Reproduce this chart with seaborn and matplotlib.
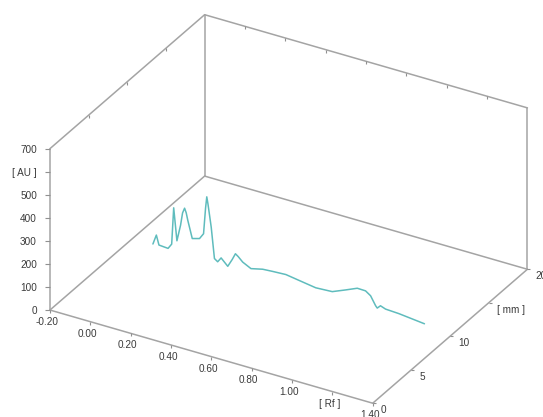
import numpy as np
import matplotlib
matplotlib.use("Agg")
import matplotlib.pyplot as plt
import seaborn as sns
from matplotlib.transforms import ScaledTranslation
from mpl_toolkits.mplot3d import proj3d

sns.set_theme(style="white")
plt.rcParams["font.family"] = ["Liberation Sans", "DejaVu Sans"]

# densitogram of one track
rf = [-0.073, -0.056, -0.043, 0.002, 0.020, 0.030, 0.046, 0.064, 0.074, 0.084,
      0.092, 0.100, 0.122, 0.158, 0.178, 0.188, 0.194, 0.200, 0.216, 0.232,
      0.248, 0.265, 0.298, 0.320, 0.336, 0.350, 0.372, 0.413, 0.471, 0.520,
      0.586, 0.652, 0.734, 0.816, 0.882, 0.940, 0.981, 1.006, 1.031, 1.039,
      1.055, 1.080, 1.146, 1.273]
au = [28, 71, 31, 28, 51, 211, 72, 144, 200, 223,
      205, 174, 101, 110, 136, 250, 300, 270, 174, 42,
      32, 53, 25, 60, 89, 80, 62, 44, 56, 59,
      62, 53, 42, 46, 70, 92, 91, 76, 39, 31,
      45, 37, 34, 22]
track_mm = 10

rf_ticks = [-0.2, 0.0, 0.2, 0.4, 0.6, 0.8, 1.0, 1.2, 1.4]
rf_labels = ["-0.20", "0.00", "0.20", "0.40", "0.60", "0.80", "1.00", "[ Rf ]", "1.40"]
mm_ticks = [0, 5, 10, 15, 20]
mm_labels = ["0", "5", "10", "[ mm ]", "20"]
au_ticks = [0, 100, 200, 300, 400, 500, 600, 700]
au_labels = ["0", "100", "200", "300", "400", "500", "[ AU ]", "700"]

W, H = 543, 417
fig = plt.figure(figsize=(W / 100, H / 100), dpi=100)
ax = fig.add_subplot(projection="3d", proj_type="ortho")
ax.view_init(elev=30, azim=-60)
ax.set_box_aspect((2.0, 1.66, 1.0))
x0, x1 = rf_ticks[0], rf_ticks[-1]
y0, y1 = mm_ticks[0], mm_ticks[-1]
z0, z1 = au_ticks[0], au_ticks[-1]
ax.set_xlim(x0, x1)
ax.set_ylim(y0, y1)
ax.set_zlim(z0, z1)
ax.set_axis_off()

frame = dict(color="#a4a4a4", lw=1.1, clip_on=False)
edges = [
    ((x0, x0), (y0, y0), (z0, z1)),
    ((x0, x1), (y0, y0), (z0, z0)),
    ((x1, x1), (y0, y1), (z0, z0)),
    ((x0, x0), (y0, y1), (z0, z0)),
    ((x0, x0), (y0, y1), (z1, z1)),
    ((x0, x0), (y1, y1), (z0, z1)),
    ((x0, x1), (y1, y1), (z1, z1)),
    ((x1, x1), (y1, y1), (z0, z1)),
    ((x0, x1), (y1, y1), (z0, z0)),
]
for ex, ey, ez in edges:
    ax.plot(ex, ey, ez, **frame)

tick = dict(ls="none", color="#909090", mew=0.8, clip_on=False)
ax.plot([x0] * len(au_ticks), [y0] * len(au_ticks), au_ticks, marker=0, ms=3.5, **tick)
ax.plot(rf_ticks, [y0] * len(rf_ticks), [z0] * len(rf_ticks), marker=3, ms=2.5, **tick)
ax.plot([x1] * len(mm_ticks), mm_ticks, [z0] * len(mm_ticks), marker=1, ms=2.5, **tick)
ax.plot(rf_ticks[1:-1], [y1] * 7, [z1] * 7, marker=3, ms=2.2, **tick)
ax.plot([x0] * 3, mm_ticks[1:-1], [z1] * 3, marker=3, ms=2.2, **tick)

ax.plot(rf, [track_mm] * len(rf), au, color="#5fbcbd", lw=1.1, clip_on=False)

# fit the box to the reference frame corners
S0 = 400.0
ax.set_position([(W - S0) / 2 / W, (H - S0) / 2 / H, S0 / W, S0 / H])
fig.canvas.draw()


def proj2d(x, y, z):
    px, py, _ = proj3d.proj_transform(x, y, z, ax.get_proj())
    return px, py


def to_px(x, y, z):
    return np.array(ax.transData.transform(proj2d(x, y, z)))


corners = [(x0, y0, z0), (x1, y1, z0), (x0, y1, z1)]
targets = np.array([(50, H - 310), (528, H - 269), (204, H - 15)], float)
p = np.array([to_px(*c) for c in corners])
c0 = np.array([W / 2, H / 2])
s = ((targets[1, 0] - targets[0, 0]) / (p[1, 0] - p[0, 0])
     + (targets[2, 1] - targets[0, 1]) / (p[2, 1] - p[0, 1])) / 2
c = (targets - s * (p - c0)).mean(axis=0)
side = S0 * s
ax.set_position([(c[0] - side / 2) / W, (c[1] - side / 2) / H, side / W, side / H])


def shifted(dx, dy):
    return ax.transData + ScaledTranslation(dx / 100, -dy / 100, fig.dpi_scale_trans)


# tick labels as flat text at the projected tick positions
txt = dict(fontsize=7.2, color="#3a3a3a")
for v, lab in zip(au_ticks, au_labels):
    ax.text2D(*proj2d(x0, y0, v), lab, ha="right", va="center",
              transform=shifted(-13, 1), **txt)
for v, lab in zip(rf_ticks, rf_labels):
    ax.text2D(*proj2d(v, y0, z0), lab, ha="center", va="center",
              transform=shifted(-3, 12), **txt)
for v, lab in zip(mm_ticks, mm_labels):
    ax.text2D(*proj2d(x1, v, z0), lab, ha="left", va="center",
              transform=shifted(8, 7), **txt)

fig.savefig("out.png", dpi=100)
